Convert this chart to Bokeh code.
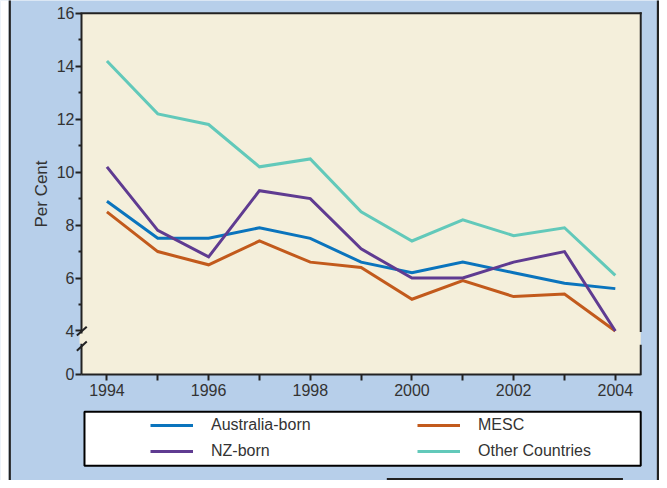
from bokeh.plotting import figure
from bokeh.models import FixedTicker, Legend, LegendItem, BoxAnnotation, Arrow
from bokeh.embed import file_html
from bokeh.resources import INLINE

# ---- data ----
years = [1994, 1995, 1996, 1997, 1998, 1999, 2000, 2001, 2002, 2003, 2004]
australia_born = [8.9, 7.5, 7.5, 7.9, 7.5, 6.6, 6.2, 6.6, 6.2, 5.8, 5.6]
mesc = [8.5, 7.0, 6.5, 7.4, 6.6, 6.4, 5.2, 5.9, 5.3, 5.4, 4.0]
nz_born = [10.2, 7.8, 6.8, 9.3, 9.0, 7.1, 6.0, 6.0, 6.6, 7.0, 4.0]
other_countries = [14.2, 12.2, 11.8, 10.2, 10.5, 8.5, 7.4, 8.2, 7.6, 7.9, 6.1]
series_names = ["Australia-born", "MESC", "NZ-born", "Other Countries"]
y_major_ticks = [4, 6, 8, 10, 12, 14, 16]
y_minor_ticks = [5, 7, 9, 11, 13, 15]
x_label_years = [1994, 1996, 1998, 2000, 2002, 2004]
y_axis_title = "Per Cent"

# ---- style ----
BLUE = "#0a74bd"
ORANGE = "#c25a1c"
PURPLE = "#5f3b91"
TEAL = "#62c9ba"
BEIGE = "#f4efdb"
PANEL = "#b7cfea"
DARK = "#222222"
TXT = "#333333"
FONT = "Liberation Sans"

W, H = 659, 480
SX, SY = W / 667, H / 488           # reference-pixel -> canvas-pixel scale

# plot-area geometry (the frame covers the whole canvas; axes sit at fixed locations)
XA, XB = 1993.5, 2004.5
L, R = 82 * SX, 648 * SX
PXU = (R - L) / (XB - XA)
XS = XA - L / PXU
XE = XS + W / PXU
T, Y4 = 13 * SY, 336 * SY
PYU = (Y4 - T) / 12.0
YE = 16 + T / PYU
YS = YE - H / PYU
Y_BREAK_ZERO = round(16 - (380 * SY - T) / PYU, 2)   # where the "0" tick sits below the break

def px(rx):
    return XS + rx * SX / PXU
def py(ry):
    return YE - ry * SY / PYU

p = figure(width=W, height=H, output_backend="svg", toolbar_location=None,
           x_range=(XS, XE), y_range=(YS, YE), title=None,
           min_border=0, border_fill_color=PANEL, background_fill_color=PANEL)
p.outline_line_color = None
p.grid.visible = False

def box(l, r, t, b, fill, level="underlay", **kw):
    bx = BoxAnnotation(left=l, right=r, top=t, bottom=b,
                       fill_color=fill, fill_alpha=1, line_alpha=0, level=level, **kw)
    p.add_layout(bx)
    return bx

# beige plot area
box(XA, XB, 16, Y_BREAK_ZERO, BEIGE)
# white page strip and outer panel borders
box(px(-5), px(8.3), py(-20), py(500), "white")
box(px(8.3), px(10.5), py(-20), py(500), DARK)
box(px(664.3), px(666.5), py(-20), py(500), DARK)

# ---- series ----
renderers = []
for data, col in zip([australia_born, mesc, nz_born, other_countries], [BLUE, ORANGE, PURPLE, TEAL]):
    r = p.line(years, data, line_color=col, line_width=3, line_join="miter")
    renderers.append(r)

# ---- axes ----
xa = p.xaxis[0]
xa.fixed_location = Y_BREAK_ZERO
xa.bounds = (XA, XB)
xa.ticker = FixedTicker(ticks=years, minor_ticks=[])
xa.major_label_overrides = {y: (str(y) if y in x_label_years else "") for y in years}
ya = p.yaxis[0]
ya.fixed_location = XA
ya.bounds = (Y_BREAK_ZERO, 16)
ya.ticker = FixedTicker(ticks=[Y_BREAK_ZERO] + y_major_ticks, minor_ticks=y_minor_ticks)
ya.major_label_overrides = {Y_BREAK_ZERO: "0"}
ya.axis_label = y_axis_title
ya.axis_label_standoff = 3
for ax in (xa, ya):
    ax.axis_line_width = 2
    ax.axis_line_color = DARK
    ax.major_tick_line_color = DARK
    ax.major_tick_line_width = 2
    ax.minor_tick_line_color = DARK
    ax.minor_tick_line_width = 2
    ax.major_tick_in = 0
    ax.major_tick_out = 6
    ax.minor_tick_in = 0
    ax.minor_tick_out = 3
    ax.major_label_text_font = FONT
    ax.major_label_text_font_size = "16px"
    ax.major_label_text_color = TXT
    ax.axis_label_text_font = FONT
    ax.axis_label_text_font_size = "17px"
    ax.axis_label_text_font_style = "normal"
    ax.axis_label_text_color = TXT
xa.major_label_standoff = 4
ya.major_label_standoff = 1

# ---- frame border: top, right (with break) ----
box(px(81), px(649), py(12), py(14), DARK, level="overlay")
box(px(647), px(649), py(12), py(337), DARK, level="overlay")
box(px(647), px(649), py(350), py(381), DARK, level="overlay")
# gap in the left axis with break marks
box(px(80), px(84), py(338.5), py(349), BEIGE, level="overlay")
for (xs, ys, xe, ye) in [(77.3, 340.7, 87.3, 331.7), (77.3, 356.0, 87.3, 346.7)]:
    p.add_layout(Arrow(end=None, x_start=px(xs), y_start=py(ys), x_end=px(xe), y_end=py(ye),
                       line_color=DARK, line_width=2, level="overlay"))

# bottom box (partly visible)
box(px(391), px(630), py(485.5), py(500), DARK, level="overlay")

# ---- legend ----
leg_box = box(px(85), px(648), py(418), py(473), "white", level="overlay")
leg_box.line_color = "black"
leg_box.line_alpha = 1
leg_box.line_width = 2

items = [LegendItem(label=series_names[0], renderers=[renderers[0]]),
         LegendItem(label=series_names[2], renderers=[renderers[2]]),
         LegendItem(label=series_names[1], renderers=[renderers[1]]),
         LegendItem(label=series_names[3], renderers=[renderers[3]])]
legend = Legend(items=items, orientation="vertical", nrows=2,
                location=(round(152 * SX), H - round(468.5 * SY)),
                padding=0, margin=0, spacing=6,
                glyph_width=43, glyph_height=20, label_height=20, label_width=200,
                label_standoff=18,
                label_text_font=FONT, label_text_font_size="16px", label_text_color=TXT,
                background_fill_alpha=0, border_line_alpha=0, level="overlay")
p.add_layout(legend, "center")

open("out.html", "w").write(file_html(p, INLINE))
